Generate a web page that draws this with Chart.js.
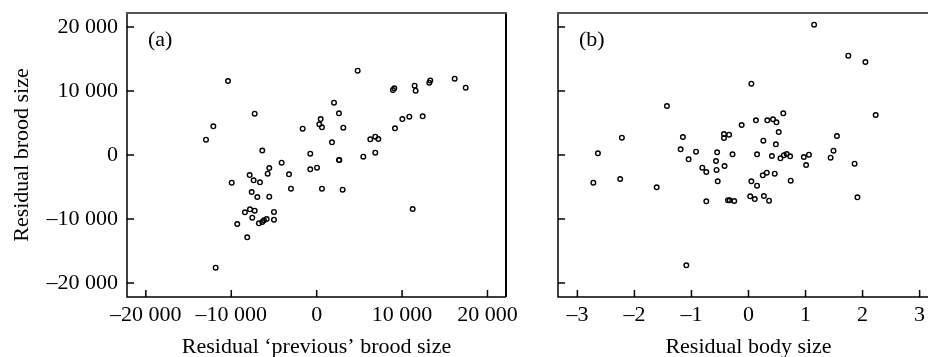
<!DOCTYPE html>
<html>
<head>
<meta charset="utf-8">
<script src="https://cdn.jsdelivr.net/npm/chart.js@4/dist/chart.umd.min.js"></script>
<style>
  html, body { margin: 0; padding: 0; background: #fff; width: 928px; height: 357px; overflow: hidden; }
  #wrap { position: relative; width: 928px; height: 357px; overflow: hidden; }
  canvas { position: absolute; top: 0; }
  #cA { left: 0; }
  #cB { left: 530px; }
</style>
</head>
<body>
<div id="wrap">
  <canvas id="cA" width="520" height="357"></canvas>
  <canvas id="cB" width="430" height="357"></canvas>
</div>
<script>
// ---- Data ----
const prevBroodX = [-10386, -7260, -12100, -12960, -1640, -6370, 4800, 2030, 2610, 470, 310, 620, 3120, 1790, 6280, 6860, 7220, 9170, 10030, 10850, 12410, 8930, 9090, 11470, 11590, 13190, 13300, 16160, 17450, -4100, -5550, -5740, -750, -750, 40, -3240, -3010, -7850, -7380, -6640, -9950, -7610, -6950, -5550, -7810, -7260, -8400, -7540, -5000, -5000, -5860, -6170, -6370, -6760, -9300, -8130, -11830, 2610, 2650, 5460, 6860, 620, 3040, 11240];
const broodA     = [11560, 6460, 4480, 2400, 4110, 700, 13170, 8170, 6510, 5620, 4790, 4320, 4270, 1980, 2450, 2860, 2500, 4170, 5620, 5990, 6040, 10160, 10420, 10830, 10050, 11300, 11660, 11930, 10520, -1200, -2030, -2920, 200, -2240, -1980, -3020, -5260, -3130, -3960, -4270, -4320, -5780, -6560, -6510, -8490, -8700, -8960, -9790, -8900, -10100, -10000, -10210, -10470, -10680, -10780, -12860, -17600, -780, -800, -260, 360, -5260, -5420, -8440];

const bodySizeX = [0.05, -1.43, 0.13, -0.12, -0.43, -0.34, -0.43, -1.15, -2.22, 1.15, 1.75, 2.05, 2.23, 0.61, 0.33, 0.43, 0.49, 0.53, 0.26, 0.48, 1.55, -2.64, -2.72, -2.25, -1.61, -1.19, -0.92, -1.05, -0.81, -0.74, -0.55, -0.28, -0.57, -0.42, -0.56, -0.54, -0.74, -0.36, -0.33, -0.25, 0.15, 0.05, 0.15, 0.03, 0.11, -1.09, 0.41, 0.56, 0.62, 0.67, 0.73, 0.97, 1.06, 1.01, 1.44, 1.49, 1.86, 1.91, 0.32, 0.25, 0.46, 0.74, 0.27, 0.36];
const broodB    = [11140, 7660, 5420, 4690, 3280, 3180, 2660, 2810, 2710, 20360, 15520, 14530, 6250, 6510, 5420, 5570, 5100, 3590, 2240, 1670, 2970, 260, -4320, -3750, -5050, 890, 520, -680, -1980, -2660, 420, 100, -940, -1720, -2340, -4110, -7240, -7080, -7080, -7190, 100, -4110, -4790, -6460, -6880, -17240, -160, -520, -50, 160, -200, -310, 50, -1560, -420, 670, -1360, -6610, -2760, -3180, -2920, -4010, -6410, -7140];

const broodTicks  = [-20000, -10000, 0, 10000, 20000];
const prevTicks   = [-20000, -10000, 0, 10000, 20000];
const bodyTicks   = [-3, -2, -1, 0, 1, 2, 3];

const panelLabels = ['(a)', '(b)'];
const xTitles = ['Residual \u2018previous\u2019 brood size', 'Residual body size'];
const yTitle = 'Residual brood size';

// ---- Helpers ----
const FONT = '"Liberation Serif", "Times New Roman", serif';
const FS = 22;
function fmt(v) {
  const neg = v < 0;
  let s = String(Math.abs(v));
  if (s.length > 4) s = s.replace(/\B(?=(\d{3})+(?!\d))/g, ' ');
  return (neg ? '\u2013' : '') + s;
}
function toPts(xs, ys) { return xs.map((x, i) => ({ x: x, y: ys[i] })); }

function framePlugin(label) {
  return {
    id: 'frame',
    afterDraw(chart) {
      const ctx = chart.ctx;
      const a = chart.chartArea;
      const xs = chart.scales.x, ys = chart.scales.y;
      ctx.save();
      ctx.strokeStyle = '#000';
      ctx.lineWidth = 1.5;
      ctx.beginPath();
      xs.ticks.forEach(t => {
        const px = xs.getPixelForValue(t.value);
        ctx.moveTo(px, a.bottom); ctx.lineTo(px, a.bottom - 7);
      });
      ys.ticks.forEach(t => {
        const py = ys.getPixelForValue(t.value);
        ctx.moveTo(a.left, py); ctx.lineTo(a.left + 7, py);
      });
      ctx.stroke();
      // left & bottom axis lines
      ctx.beginPath();
      ctx.moveTo(a.left, a.top); ctx.lineTo(a.left, a.bottom); ctx.lineTo(a.right, a.bottom);
      ctx.stroke();
      // right line
      ctx.lineWidth = 2;
      ctx.beginPath();
      ctx.moveTo(a.right, a.top); ctx.lineTo(a.right, a.bottom);
      ctx.stroke();
      // top line
      ctx.strokeStyle = '#555';
      ctx.beginPath();
      ctx.moveTo(a.left - 1, a.top); ctx.lineTo(a.right + 1, a.top);
      ctx.stroke();
      // panel label
      ctx.fillStyle = '#000';
      ctx.font = FS + 'px ' + FONT;
      ctx.textAlign = 'left';
      ctx.textBaseline = 'middle';
      ctx.fillText(label, a.left + 21, a.top + 27);
      ctx.restore();
    }
  };
}

function makeChart(id, pts, opt) {
  return new Chart(document.getElementById(id), {
    type: 'scatter',
    data: { datasets: [{
      data: pts,
      pointRadius: 2.3,
      pointHoverRadius: 2.3,
      pointBorderWidth: 1.4,
      borderColor: '#000',
      backgroundColor: 'rgba(255,255,255,0)',
      pointStyle: 'circle'
    }]},
    options: {
      responsive: false,
      animation: false,
      devicePixelRatio: 1,
      layout: { padding: { top: 13, right: opt.padRight, left: 0, bottom: 0 } },
      plugins: { legend: { display: false }, tooltip: { enabled: false } },
      scales: {
        x: {
          type: 'linear',
          min: opt.xMin, max: opt.xMax,
          afterBuildTicks: s => { s.ticks = opt.xTicks.map(v => ({ value: v })); },
          afterFit: s => { s.height = 60; s.paddingLeft = 0; s.paddingRight = 0; },
          grid: { display: false, drawTicks: false },
          border: { display: false },
          ticks: {
            color: '#000', padding: 5,
            font: { family: FONT, size: FS },
            maxRotation: 0, autoSkip: false,
            callback: v => opt.xFmt(v)
          },
          title: {
            display: true, text: opt.xTitle, color: '#000',
            font: { family: FONT, size: FS, lineHeight: 1 },
            padding: { top: 0, bottom: -1 }
          }
        },
        y: {
          type: 'linear',
          min: -22190, max: 22190,
          afterBuildTicks: s => { s.ticks = broodTicks.map(v => ({ value: v })); },
          afterFit: s => { s.width = opt.yWidth; s.paddingTop = 0; s.paddingBottom = 0; },
          grid: { display: false, drawTicks: false },
          border: { display: false },
          ticks: {
            display: opt.yLabels, color: '#000', padding: 9,
            font: { family: FONT, size: FS },
            autoSkip: false,
            callback: v => fmt(v)
          },
          title: {
            display: opt.yLabels, text: yTitle, color: '#000',
            font: { family: FONT, size: FS, lineHeight: 1 },
            padding: { top: 11, bottom: 0 }
          }
        }
      }
    },
    plugins: [framePlugin(opt.label)]
  });
}

makeChart('cA', toPts(prevBroodX, broodA), {
  xMin: -22210, xMax: 22170, xTicks: prevTicks, xFmt: fmt,
  xTitle: xTitles[0], yWidth: 127, padRight: 14, yLabels: true, label: panelLabels[0]
});
makeChart('cB', toPts(bodySizeX, broodB), {
  xMin: -3.34, xMax: 3.34, xTicks: bodyTicks, xFmt: v => (v < 0 ? '\u2013' + Math.abs(v) : String(v)),
  xTitle: xTitles[1], yWidth: 28, padRight: 21, yLabels: false, label: panelLabels[1]
});
</script>
</body>
</html>
